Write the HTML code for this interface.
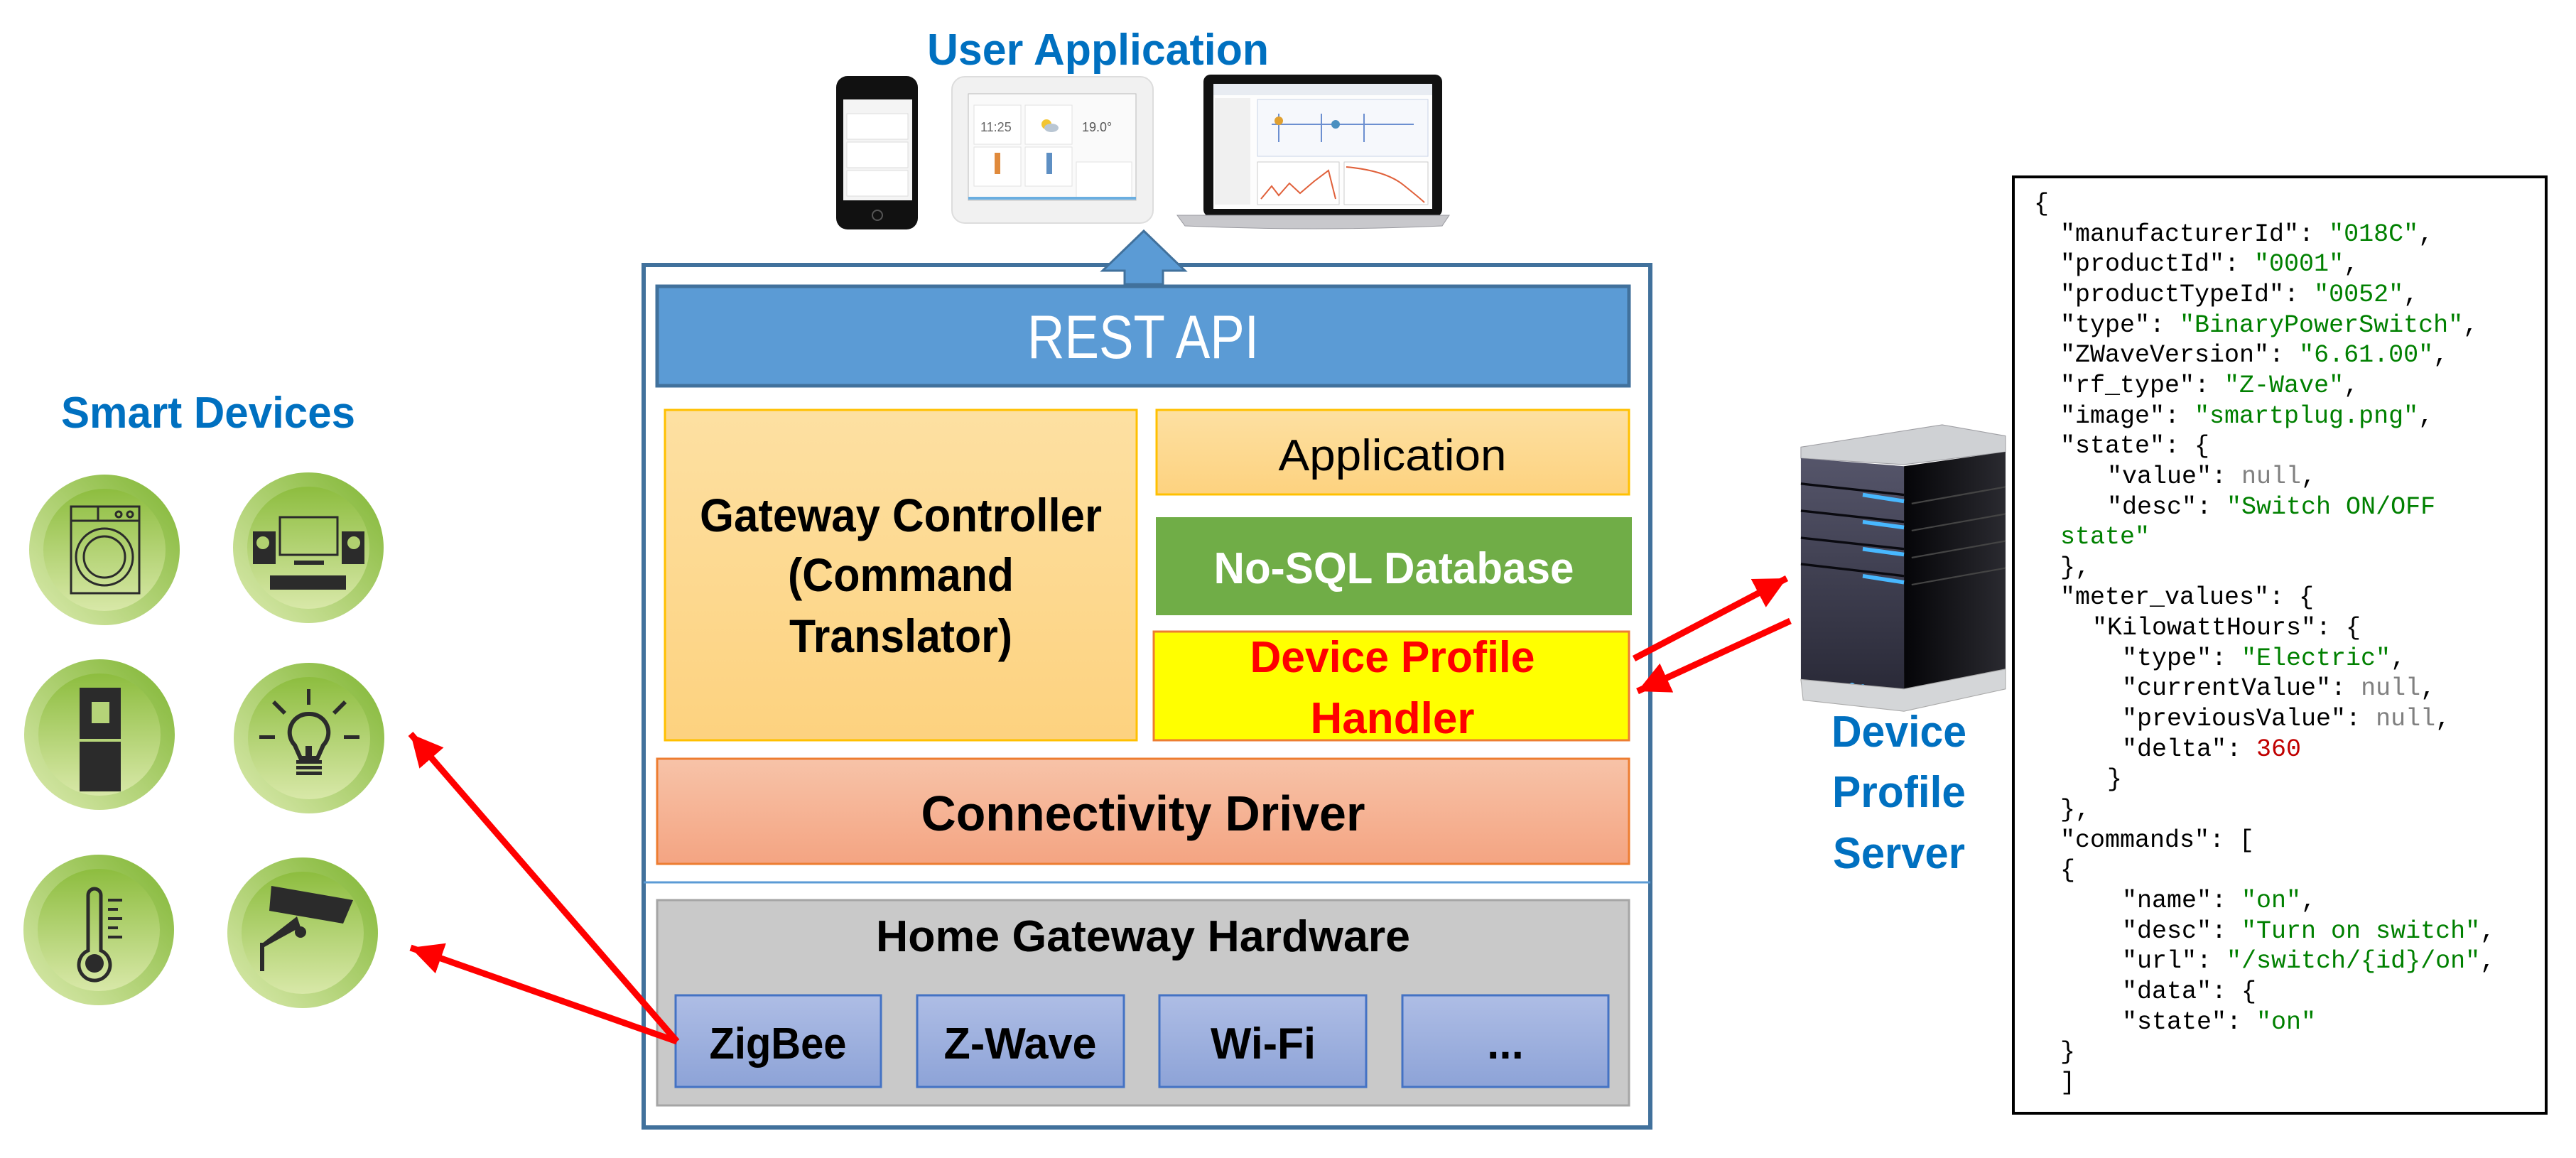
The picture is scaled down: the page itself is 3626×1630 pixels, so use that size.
<!DOCTYPE html>
<html><head><meta charset="utf-8"><style>html,body{margin:0;padding:0;background:#fff}svg{display:block}</style></head>
<body>
<svg width="3626" height="1630" viewBox="0 0 3626 1630" xmlns="http://www.w3.org/2000/svg" font-family="'Liberation Sans', sans-serif">
<defs>
<linearGradient id="gc" x1="0" y1="0" x2="0" y2="1"><stop offset="0" stop-color="#fde0a2"/><stop offset="1" stop-color="#fdd27f"/></linearGradient>
<linearGradient id="cd" x1="0" y1="0" x2="0" y2="1"><stop offset="0" stop-color="#f7c3a8"/><stop offset="1" stop-color="#f4a482"/></linearGradient>
<linearGradient id="ch" x1="0" y1="0" x2="0" y2="1"><stop offset="0" stop-color="#aebde5"/><stop offset="1" stop-color="#8da3d7"/></linearGradient>
<linearGradient id="ring" x1="1" y1="0" x2="0" y2="1"><stop offset="0" stop-color="#7fb532"/><stop offset="1" stop-color="#dcebb0"/></linearGradient>
<linearGradient id="disk" x1="0" y1="0" x2="0" y2="1"><stop offset="0" stop-color="#8dbd3f"/><stop offset="1" stop-color="#d8e8a8"/></linearGradient>
<linearGradient id="srvL" x1="0" y1="0" x2="0" y2="1"><stop offset="0" stop-color="#55556a"/><stop offset="1" stop-color="#2a2a38"/></linearGradient>
<linearGradient id="srvR" x1="0" y1="0" x2="1" y2="0"><stop offset="0" stop-color="#050508"/><stop offset="1" stop-color="#2a2a30"/></linearGradient>
<marker id="ah" markerWidth="5" markerHeight="5" refX="5" refY="2.5" orient="auto" markerUnits="strokeWidth"><path d="M0,0 L5,2.5 L0,5 z" fill="#ff0000"/></marker>
</defs>

<text x="1305" y="91" font-size="62" font-weight="bold" fill="#0070c0" textLength="481" lengthAdjust="spacingAndGlyphs">User Application</text>
<text x="86" y="602" font-size="62" font-weight="bold" fill="#0070c0" textLength="414" lengthAdjust="spacingAndGlyphs">Smart Devices</text>

<!-- Phone -->
<rect x="1177" y="107" width="115" height="216" rx="16" fill="#111"/>
<rect x="1187" y="140" width="97" height="142" fill="#f4f4f4"/>
<rect x="1192" y="160" width="86" height="36" fill="#fff" stroke="#ddd"/>
<rect x="1192" y="200" width="86" height="36" fill="#fff" stroke="#ddd"/>
<rect x="1192" y="240" width="86" height="36" fill="#fff" stroke="#ddd"/>
<circle cx="1235" cy="303" r="7" fill="none" stroke="#555" stroke-width="2"/>
<!-- Tablet -->
<rect x="1340" y="108" width="283" height="206" rx="18" fill="#f1f1f1" stroke="#ddd" stroke-width="2"/>
<rect x="1363" y="132" width="236" height="150" fill="#fafafa" stroke="#bbb"/>
<rect x="1371" y="148" width="66" height="55" fill="#fff" stroke="#e2e2e2"/>
<text x="1380" y="185" font-size="18" fill="#666">11:25</text>
<rect x="1443" y="148" width="66" height="55" fill="#fff" stroke="#e2e2e2"/>
<circle cx="1473" cy="175" r="7" fill="#f3c531"/><ellipse cx="1480" cy="180" rx="10" ry="6" fill="#b9c6d3"/>
<rect x="1371" y="207" width="66" height="55" fill="#fff" stroke="#e2e2e2"/>
<rect x="1400" y="215" width="8" height="30" fill="#e08a3c"/>
<rect x="1443" y="207" width="66" height="55" fill="#fff" stroke="#e2e2e2"/>
<rect x="1473" y="215" width="8" height="30" fill="#5e8fc3"/>
<text x="1523" y="185" font-size="18" fill="#555">19.0°</text>
<rect x="1515" y="228" width="78" height="50" fill="#fff" stroke="#e2e2e2"/>
<rect x="1363" y="277" width="236" height="4" fill="#6aaee0"/>
<!-- Laptop -->
<rect x="1694" y="105" width="336" height="200" rx="10" fill="#111"/>
<rect x="1708" y="118" width="308" height="176" fill="#fdfdfd"/>
<rect x="1708" y="118" width="308" height="16" fill="#e8ecf2"/>
<rect x="1710" y="138" width="50" height="150" fill="#f0f0f0"/>
<rect x="1770" y="140" width="240" height="80" fill="#f6f8fc" stroke="#c9d3e6"/>
<path d="M1790 175 H1990 M1800 160 V200 M1860 160 V200 M1920 160 V200" stroke="#6c8fd0" stroke-width="2"/>
<circle cx="1800" cy="170" r="6" fill="#e0a030"/><circle cx="1880" cy="175" r="6" fill="#4a90c0"/>
<rect x="1770" y="228" width="115" height="60" fill="#fff" stroke="#ccc"/>
<path d="M1775 280 L1790 262 L1800 275 L1815 258 L1830 272 L1850 255 L1870 240 L1880 280" fill="none" stroke="#e0603a" stroke-width="2"/>
<rect x="1892" y="228" width="118" height="60" fill="#fff" stroke="#ccc"/>
<path d="M1895 235 Q1950 240 1975 260 T2005 285" fill="none" stroke="#e0603a" stroke-width="2"/>
<path d="M1657 303 H2040 L2030 318 Q1850 326 1668 318 Z" fill="#c8c8cc" stroke="#9a9aa0"/>

<rect x="906" y="373" width="1417" height="1214" fill="#fff" stroke="#41719c" stroke-width="6"/>
<path d="M1583 400 V381 H1552 L1610 325 L1668 381 H1637 V400 Z" fill="#5b9bd5" stroke="#41719c" stroke-width="3"/>
<rect x="925" y="403" width="1368" height="140" fill="#5b9bd5" stroke="#41719c" stroke-width="5"/>
<text x="1609" y="504" font-size="86" fill="#fff" text-anchor="middle" textLength="326" lengthAdjust="spacingAndGlyphs">REST API</text>
<rect x="936" y="577" width="664" height="465" fill="url(#gc)" stroke="#ffc000" stroke-width="3"/>
<text x="1268" y="748" font-size="66" font-weight="bold" text-anchor="middle" textLength="566" lengthAdjust="spacingAndGlyphs">Gateway Controller</text>
<text x="1268" y="832" font-size="66" font-weight="bold" text-anchor="middle" textLength="318" lengthAdjust="spacingAndGlyphs">(Command</text>
<text x="1268" y="918" font-size="66" font-weight="bold" text-anchor="middle" textLength="314" lengthAdjust="spacingAndGlyphs">Translator)</text>
<rect x="1628" y="577" width="665" height="119" fill="url(#gc)" stroke="#ffc000" stroke-width="3"/>
<text x="1960" y="662" font-size="62" text-anchor="middle" textLength="321" lengthAdjust="spacingAndGlyphs">Application</text>
<rect x="1627" y="728" width="670" height="138" fill="#70ad47"/>
<text x="1962" y="821" font-size="62" font-weight="bold" fill="#fff" text-anchor="middle" textLength="507" lengthAdjust="spacingAndGlyphs">No-SQL Database</text>
<rect x="1624" y="889" width="669" height="153" fill="#ffff00" stroke="#ed7d31" stroke-width="3"/>
<text x="1960" y="946" font-size="62" font-weight="bold" fill="#ff0000" text-anchor="middle" textLength="401" lengthAdjust="spacingAndGlyphs">Device Profile</text>
<text x="1960" y="1032" font-size="62" font-weight="bold" fill="#ff0000" text-anchor="middle" textLength="231" lengthAdjust="spacingAndGlyphs">Handler</text>
<rect x="925" y="1068" width="1368" height="148" fill="url(#cd)" stroke="#ed7d31" stroke-width="3"/>
<text x="1609" y="1169" font-size="70" font-weight="bold" text-anchor="middle" textLength="625" lengthAdjust="spacingAndGlyphs">Connectivity Driver</text>
<line x1="906" y1="1242" x2="2323" y2="1242" stroke="#5b9bd5" stroke-width="3"/>
<rect x="925" y="1267" width="1368" height="289" fill="#c9c9c9" stroke="#a5a5a5" stroke-width="3"/>
<text x="1609" y="1339" font-size="62" font-weight="bold" text-anchor="middle" textLength="752" lengthAdjust="spacingAndGlyphs">Home Gateway Hardware</text>
<rect x="951" y="1401" width="289" height="129" fill="url(#ch)" stroke="#4472c4" stroke-width="3"/>
<rect x="1291" y="1401" width="291" height="129" fill="url(#ch)" stroke="#4472c4" stroke-width="3"/>
<rect x="1632" y="1401" width="291" height="129" fill="url(#ch)" stroke="#4472c4" stroke-width="3"/>
<rect x="1974" y="1401" width="290" height="129" fill="url(#ch)" stroke="#4472c4" stroke-width="3"/>
<text x="1095" y="1490" font-size="62" font-weight="bold" text-anchor="middle" textLength="193" lengthAdjust="spacingAndGlyphs">ZigBee</text>
<text x="1436" y="1490" font-size="62" font-weight="bold" text-anchor="middle" textLength="215" lengthAdjust="spacingAndGlyphs">Z-Wave</text>
<text x="1778" y="1490" font-size="62" font-weight="bold" text-anchor="middle" textLength="148" lengthAdjust="spacingAndGlyphs">Wi-Fi</text>
<text x="2119" y="1490" font-size="62" font-weight="bold" text-anchor="middle">...</text>

<g>
<circle cx="147" cy="774" r="106" fill="url(#ring)"/><circle cx="147" cy="774" r="86" fill="url(#disk)"/>
<circle cx="434" cy="771" r="106" fill="url(#ring)"/><circle cx="434" cy="771" r="86" fill="url(#disk)"/>
<circle cx="140" cy="1034" r="106" fill="url(#ring)"/><circle cx="140" cy="1034" r="86" fill="url(#disk)"/>
<circle cx="435" cy="1039" r="106" fill="url(#ring)"/><circle cx="435" cy="1039" r="86" fill="url(#disk)"/>
<circle cx="139" cy="1309" r="106" fill="url(#ring)"/><circle cx="139" cy="1309" r="86" fill="url(#disk)"/>
<circle cx="426" cy="1313" r="106" fill="url(#ring)"/><circle cx="426" cy="1313" r="86" fill="url(#disk)"/>
</g>
<g fill="none" stroke="#2b2b2b" stroke-width="3">
<rect x="100" y="713" width="96" height="122"/><line x1="100" y1="733" x2="196" y2="733"/><line x1="138" y1="713" x2="138" y2="733"/>
<circle cx="167" cy="724" r="4"/><circle cx="183" cy="724" r="4"/>
<circle cx="147" cy="784" r="40"/><circle cx="147" cy="784" r="29"/>
</g>
<g fill="#2b2b2b">
<rect x="356" y="748" width="32" height="46"/><rect x="481" y="748" width="32" height="46"/>
<rect x="394" y="728" width="81" height="53" fill="none" stroke="#2b2b2b" stroke-width="3"/>
<rect x="414" y="789" width="42" height="6"/><rect x="380" y="810" width="107" height="20"/>
<circle cx="370" cy="764" r="9" fill="#b0d070"/><circle cx="498" cy="764" r="9" fill="#b0d070"/>
<rect x="112" y="968" width="58" height="72"/><rect x="112" y="1044" width="58" height="70"/>
<rect x="129" y="988" width="25" height="30" fill="#b5d378"/>
<path d="M435 1005 a26 26 0 0 1 20 44 l-8 18 h-24 l-8 -18 a26 26 0 0 1 20 -44z" fill="none" stroke="#2b2b2b" stroke-width="6"/>
<rect x="430" y="1050" width="9" height="20"/><rect x="417" y="1070" width="36" height="5"/><rect x="417" y="1078" width="36" height="5"/><rect x="417" y="1086" width="36" height="5"/>
<rect x="432" y="970" width="5" height="22"/><rect x="365" y="1035" width="22" height="5"/><rect x="484" y="1035" width="22" height="5"/>
<path d="M383 990 l4 -4 16 16 -4 4z M488 990 l-4 -4 -16 16 4 4z"/>
<path d="M124 1260 a9 9 0 0 1 18 0 v78 a22 22 0 1 1 -18 0z" fill="none" stroke="#2b2b2b" stroke-width="5"/>
<circle cx="133" cy="1356" r="13"/>
<rect x="152" y="1265" width="20" height="4"/><rect x="152" y="1278" width="14" height="4"/><rect x="152" y="1291" width="20" height="4"/><rect x="152" y="1304" width="14" height="4"/><rect x="152" y="1317" width="20" height="4"/>
<path d="M382 1247 L497 1267 L483 1300 L379 1282z"/>
<path d="M418 1290 L423 1305 L372 1333 L369 1328z"/><circle cx="423" cy="1312" r="8"/>
<rect x="366" y="1327" width="6" height="40"/>
</g>

<!-- Server -->
<g transform="matrix(1.075 0 0 1.12 -211.7 -71.8)">
<path d="M2555 626 L2740 598 L2823 612 L2823 632 L2690 648 L2555 640z" fill="#cfd1d4" stroke="#a0a0a5"/>
<path d="M2555 640 L2690 650 L2690 930 L2555 918z" fill="url(#srvL)"/>
<path d="M2690 650 L2823 632 L2823 905 L2690 930z" fill="url(#srvR)"/>
<g stroke="#0a0a10" stroke-width="3"><line x1="2555" y1="672" x2="2690" y2="686"/><line x1="2555" y1="706" x2="2690" y2="720"/><line x1="2555" y1="740" x2="2690" y2="754"/><line x1="2555" y1="773" x2="2690" y2="788"/></g>
<g stroke="#48b8ff" stroke-width="5"><line x1="2636" y1="686" x2="2690" y2="694"/><line x1="2636" y1="720" x2="2690" y2="727"/><line x1="2636" y1="754" x2="2690" y2="761"/><line x1="2636" y1="788" x2="2690" y2="796"/></g>
<g stroke="#444" stroke-width="2"><line x1="2700" y1="697" x2="2823" y2="676"/><line x1="2700" y1="731" x2="2823" y2="710"/><line x1="2700" y1="765" x2="2823" y2="744"/><line x1="2700" y1="799" x2="2823" y2="778"/></g>
<circle cx="2622" cy="926" r="4" fill="#48b8ff"/><circle cx="2636" cy="928" r="4" fill="#48b8ff"/><circle cx="2650" cy="930" r="4" fill="#48b8ff"/>
<path d="M2555 918 L2690 930 L2823 905 L2823 930 L2690 958 L2558 944z" fill="#d4d6d8" stroke="#aaa"/>
</g>
<text x="2673" y="1051" font-size="62" font-weight="bold" fill="#0070c0" text-anchor="middle" textLength="190" lengthAdjust="spacingAndGlyphs">Device</text>
<text x="2673" y="1136" font-size="62" font-weight="bold" fill="#0070c0" text-anchor="middle" textLength="188" lengthAdjust="spacingAndGlyphs">Profile</text>
<text x="2673" y="1222" font-size="62" font-weight="bold" fill="#0070c0" text-anchor="middle" textLength="186" lengthAdjust="spacingAndGlyphs">Server</text>

<!-- Red arrows -->
<g stroke="#ff0000" stroke-width="9" fill="none">
<line x1="2300" y1="927" x2="2515" y2="814" marker-end="url(#ah)"/>
<line x1="2520" y1="874" x2="2305" y2="973" marker-end="url(#ah)"/>
<line x1="953" y1="1466" x2="578" y2="1033" marker-end="url(#ah)"/>
<line x1="953" y1="1466" x2="578" y2="1334" marker-end="url(#ah)"/>
</g>

<!-- JSON box -->
<rect x="2834" y="249" width="750" height="1318" fill="#fff" stroke="#000" stroke-width="4"/>
<g font-family="'Liberation Mono', monospace" font-size="35" fill="#000" xml:space="preserve">
<text x="2863" y="296">{</text>
<text x="2900" y="339">"manufacturerId": <tspan fill="#008000">"018C"</tspan>,</text>
<text x="2900" y="381">"productId": <tspan fill="#008000">"0001"</tspan>,</text>
<text x="2900" y="424">"productTypeId": <tspan fill="#008000">"0052"</tspan>,</text>
<text x="2900" y="467">"type": <tspan fill="#008000">"BinaryPowerSwitch"</tspan>,</text>
<text x="2900" y="509">"ZWaveVersion": <tspan fill="#008000">"6.61.00"</tspan>,</text>
<text x="2900" y="552">"rf_type": <tspan fill="#008000">"Z-Wave"</tspan>,</text>
<text x="2900" y="595">"image": <tspan fill="#008000">"smartplug.png"</tspan>,</text>
<text x="2900" y="637">"state": {</text>
<text x="2966" y="680">"value": <tspan fill="#808080">null</tspan>,</text>
<text x="2966" y="723">"desc": <tspan fill="#008000">"Switch ON/OFF</tspan></text>
<text x="2900" y="765" fill="#008000">state"</text>
<text x="2900" y="808">},</text>
<text x="2900" y="850">"meter_values": {</text>
<text x="2945" y="893">"KilowattHours": {</text>
<text x="2987" y="936">"type": <tspan fill="#008000">"Electric"</tspan>,</text>
<text x="2987" y="978">"currentValue": <tspan fill="#808080">null</tspan>,</text>
<text x="2987" y="1021">"previousValue": <tspan fill="#808080">null</tspan>,</text>
<text x="2987" y="1064">"delta": <tspan fill="#c00000">360</tspan></text>
<text x="2966" y="1106">}</text>
<text x="2900" y="1149">},</text>
<text x="2900" y="1192">"commands": [</text>
<text x="2900" y="1234">{</text>
<text x="2987" y="1277">"name": <tspan fill="#008000">"on"</tspan>,</text>
<text x="2987" y="1320">"desc": <tspan fill="#008000">"Turn on switch"</tspan>,</text>
<text x="2987" y="1362">"url": <tspan fill="#008000">"/switch/{id}/on"</tspan>,</text>
<text x="2987" y="1405">"data": {</text>
<text x="2987" y="1448">"state": <tspan fill="#008000">"on"</tspan></text>
<text x="2900" y="1490">}</text>
<text x="2900" y="1533">]</text>
</g>
</svg>
</body></html>
